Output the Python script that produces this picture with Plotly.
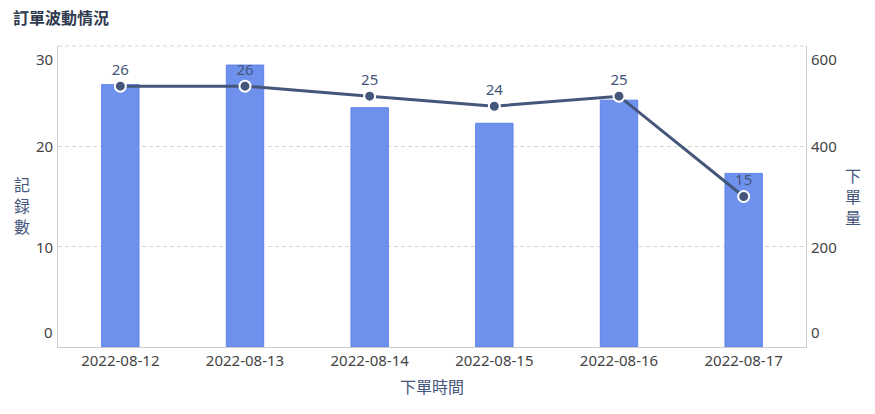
import plotly.graph_objects as go

# 數據
dates = ["2022-08-12", "2022-08-13", "2022-08-14", "2022-08-15", "2022-08-16", "2022-08-17"]
order_qty = [523, 562, 477, 446, 492, 346]      # 下單量 (右軸, 柱)
record_cnt = [26, 26, 25, 24, 25, 15]           # 記録數 (左軸, 線)
left_ticks = [0, 10, 20, 30]
right_ticks = [0, 200, 400, 600]

FONT = "Noto Sans, Noto Sans CJK TC, sans-serif"
LINE_C = "#44567a"
BAR_C = "#6e91ee"
TICK_C = "#444444"
GRID_C = "#d6d6d6"

# 頁面 body 預設有 8px 邊距
W, H = 867, 406

fig = go.Figure()

fig.add_trace(go.Bar(
    x=dates, y=order_qty, yaxis="y", name="下單量",
    marker=dict(color=BAR_C, line=dict(color="#5f84ea", width=1)),
    width=0.3,
))

fig.add_trace(go.Scatter(
    x=dates, y=record_cnt, yaxis="y2", name="記録數",
    mode="lines+markers+text",
    text=[str(v) for v in record_cnt],
    textposition="top center",
    textfont=dict(size=15, color=LINE_C, family=FONT),
    line=dict(color=LINE_C, width=3),
    marker=dict(size=11, color=LINE_C, line=dict(color="white", width=2)),
))

# 軸刻度標籤 (邊緣的標籤往內收)
edge_shift = {0: 15, 3: -13}
annotations = []
for i, v in enumerate(left_ticks):
    annotations.append(dict(
        x=0, xref="paper", y=v, yref="y2", text=str(v), showarrow=False,
        xanchor="right", xshift=-3, yshift=edge_shift.get(i, 0),
        font=dict(size=15, color=TICK_C, family=FONT)))
for i, v in enumerate(right_ticks):
    annotations.append(dict(
        x=1, xref="paper", y=v, yref="y", text=str(v), showarrow=False,
        xanchor="left", xshift=3, yshift=edge_shift.get(i, 0),
        font=dict(size=15, color=TICK_C, family=FONT)))

# 軸標題 (直排)
annotations.append(dict(
    x=0, xref="paper", y=0.47, yref="paper", text="記<br>録<br>數",
    showarrow=False, xanchor="center", xshift=-36,
    font=dict(size=16, color=LINE_C, family=FONT)))
annotations.append(dict(
    x=1, xref="paper", y=0.5, yref="paper", text="下<br>單<br>量",
    showarrow=False, xanchor="center", xshift=47,
    font=dict(size=16, color=LINE_C, family=FONT)))

fig.update_layout(
    width=W, height=H,
    margin=dict(l=50, r=69, t=38, b=67),
    plot_bgcolor="white", paper_bgcolor="white",
    showlegend=False,
    title=dict(text="<b>訂單波動情況</b>", x=5 / W, xanchor="left",
               y=1 - 10 / H, yanchor="middle",
               font=dict(size=16, color="#2f3a4f", family=FONT)),
    xaxis=dict(
        type="category", showline=True, linecolor="#cccccc", linewidth=1,
        showgrid=False, ticks="",
        tickfont=dict(size=15, color=TICK_C, family=FONT),
        title=dict(text="下單時間", standoff=12,
                   font=dict(size=16, color=LINE_C, family=FONT)),
    ),
    yaxis=dict(
        side="right", range=[0, 600], tickvals=right_ticks,
        showticklabels=False, showline=True, linecolor="#cccccc",
        showgrid=True, gridcolor=GRID_C, griddash="4px,3px", zeroline=False,
    ),
    yaxis2=dict(
        overlaying="y", side="left", range=[0, 30], tickvals=left_ticks,
        showticklabels=False, showline=True, linecolor="#cccccc",
        showgrid=False, zeroline=False,
    ),
    annotations=annotations,
    # 頂部的虛線網格
    shapes=[dict(type="line", xref="paper", yref="paper", x0=0, x1=1, y0=1, y1=1,
                 line=dict(color=GRID_C, width=1, dash="4px,3px"), layer="below")],
)

fig.write_html("out.html")
